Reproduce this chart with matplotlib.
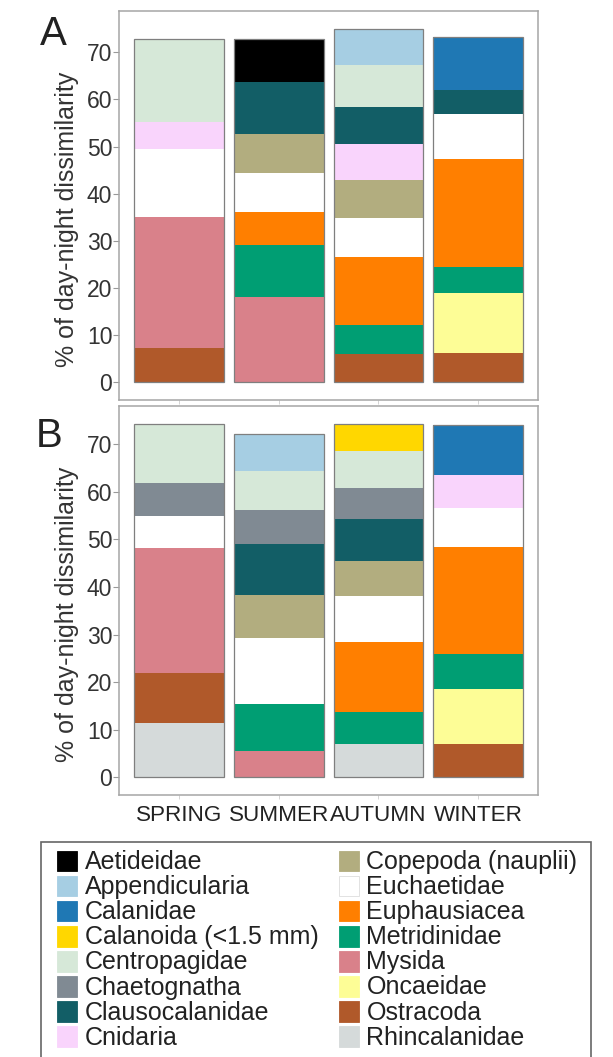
import numpy as np
import matplotlib
matplotlib.use("Agg")
import matplotlib.pyplot as plt
from matplotlib.patches import Rectangle

plt.rcParams['font.family'] = ['Liberation Sans', 'DejaVu Sans']

seasons = ['SPRING', 'SUMMER', 'AUTUMN', 'WINTER']
taxa = ['Aetideidae', 'Appendicularia', 'Calanidae', 'Calanoida (<1.5 mm)',
        'Centropagidae', 'Chaetognatha', 'Clausocalanidae', 'Cnidaria',
        'Copepoda (nauplii)', 'Euchaetidae', 'Euphausiacea', 'Metridinidae',
        'Mysida', 'Oncaeidae', 'Ostracoda', 'Rhincalanidae']
colors = ['#000000', '#A6CEE3', '#1F78B4', '#FFD700',
          '#D6E8D8', '#808A93', '#125E66', '#F9D4FC',
          '#B2AD7F', '#FFFFFF', '#FF7F00', '#009E73',
          '#D9818A', '#FDFD96', '#B0592A', '#D5DADA']

# contribution (%) of each taxon, same order as `taxa`
spring_a = [0, 0, 0, 0, 17.5, 0, 0, 5.8, 0, 14.5, 0, 0, 27.8, 0, 7.2, 0]
summer_a = [9.1, 0, 0, 0, 0, 0, 11.1, 0, 8.2, 8.2, 7.1, 11.1, 18.0, 0, 0, 0]
autumn_a = [0, 7.6, 0, 0, 9.0, 0, 7.9, 7.6, 8.0, 8.4, 14.4, 6.0, 0, 0, 6.1, 0]
winter_a = [0, 0, 11.3, 0, 0, 0, 4.9, 0, 0, 9.6, 22.9, 5.6, 0, 12.7, 6.2, 0]

spring_b = [0, 0, 0, 0, 12.4, 7.1, 0, 0, 0, 6.6, 0, 0, 26.3, 0, 10.5, 11.4]
summer_b = [0, 7.8, 0, 0, 8.2, 7.2, 10.7, 0, 9.1, 13.7, 0, 10.0, 5.5, 0, 0, 0]
autumn_b = [0, 0, 0, 5.8, 7.7, 6.5, 8.8, 0, 7.5, 9.5, 14.7, 6.7, 0, 0, 0, 7.1]
winter_b = [0, 0, 10.5, 0, 0, 0, 0, 7.1, 0, 8.2, 22.4, 7.3, 0, 11.7, 6.9, 0]

W, H = 613, 1057
fig = plt.figure(figsize=(W / 100, H / 100), dpi=100)
fig.patch.set_facecolor('white')

def px_axes(x0, y0, x1, y1):
    return fig.add_axes([x0 / W, 1 - y1 / H, (x1 - x0) / W, (y1 - y0) / H])

def stacked_panel(ax, data, show_x):
    vals = np.array(data, dtype=float)  # seasons x taxa
    x = np.arange(1, len(seasons) + 1)
    bottom = np.zeros(len(seasons))
    # ggplot-style stacking: reverse alphabetical from the bottom up
    for i in range(len(taxa) - 1, -1, -1):
        h = vals[:, i]
        ax.bar(x, h, bottom=bottom, width=0.9, color=colors[i],
               edgecolor='none', linewidth=0)
        bottom += h
    ax.bar(x, bottom, width=0.9, color='none', edgecolor='#7f7f7f', linewidth=0.9)
    top = bottom.max()
    ax.set_xlim(0.4, len(seasons) + 0.6)
    ax.set_ylim(-0.05 * top, 1.05 * top)
    ax.set_yticks(np.arange(0, 71, 10))
    ax.set_xticks(x)
    ax.set_xticklabels(seasons if show_x else [])
    ax.tick_params(axis='y', length=4, width=0.8, color='#999999', pad=1,
                   labelsize=16.5, labelcolor='#333333')
    ax.tick_params(axis='x', length=3, width=0.6, color='#cccccc', pad=4,
                   labelsize=16.2, labelcolor='#222222')
    for s in ax.spines.values():
        s.set_color('#a6a6a6')
        s.set_linewidth(1.1)
    ax.set_ylabel('% of day-night dissimilarity', fontsize=18, color='#333333',
                  va='center')
    ax.yaxis.set_label_coords(-0.126, 0.465)

ax_a = px_axes(119.3, 11, 538, 400)
stacked_panel(ax_a, [spring_a, summer_a, autumn_a, winter_a], False)
ax_b = px_axes(119.3, 406, 538, 795)
stacked_panel(ax_b, [spring_b, summer_b, autumn_b, winter_b], True)

fig.text(40 / W, 1 - 45 / H, 'A', fontsize=29, color='#222222', va='baseline')
fig.text(36 / W, 1 - 447 / H, 'B', fontsize=29, color='#222222', va='baseline')

# legend drawn in pixel coordinates
lg = fig.add_axes([0, 0, 1, 1], zorder=5)
lg.set_xlim(0, W)
lg.set_ylim(H, 0)
lg.axis('off')
lg.patch.set_alpha(0)
lg.add_patch(Rectangle((40.8, 841.7), 550, 230, facecolor='white',
                       edgecolor='#666666', linewidth=1.2, clip_on=False))
col_x = [56.7, 338.5]
row_y0, pitch, sw = 861, 25.1, 20.5
for k, (name, c) in enumerate(zip(taxa, colors)):
    col, row = divmod(k, 8)
    cy = row_y0 + row * pitch
    lg.add_patch(Rectangle((col_x[col], cy - sw / 2), sw, sw, facecolor=c,
                           edgecolor='#dddddd' if c == '#FFFFFF' else c,
                           linewidth=0.6))
    lg.text(col_x[col] + sw + 7.5, cy + 1, name, fontsize=18, color='#222222',
            va='center', ha='left')

fig.savefig('out.png', dpi=100)
